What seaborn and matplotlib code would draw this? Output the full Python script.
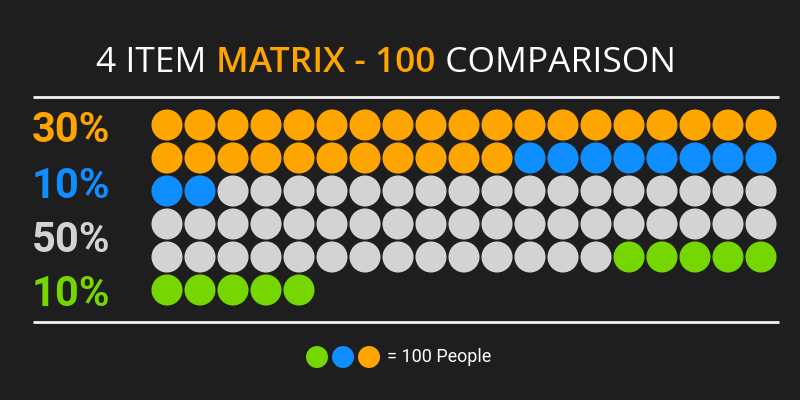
import matplotlib
matplotlib.use("Agg")
import matplotlib.pyplot as plt
import seaborn as sns
import pandas as pd
import numpy as np

# ---- data ----
categories = ["Orange", "Blue", "Gray", "Green"]
counts = [30, 10, 50, 10]
percent_labels = ["30%", "10%", "50%", "10%"]
colors = ["#FFA500", "#0F8FFF", "#D3D3D3", "#76D600"]
title_parts = ["4 ITEM ", "MATRIX - 100", " COMPARISON"]
legend_text = "= 100 People"
legend_order = ["Green", "Blue", "Orange"]

BG = "#1E1E1E"
N_COLS = 19

sns.set_theme(style="dark")
plt.rcParams["font.family"] = ["Open Sans", "DejaVu Sans"]

fig = plt.figure(figsize=(8, 4), dpi=100, facecolor=BG)
ax = fig.add_axes([0, 0, 1, 1])
ax.set_facecolor(BG)
ax.set_xlim(0, 800)
ax.set_ylim(400, 0)
ax.axis("off")

# build waffle table
cat_col = []
for c, n in zip(categories, counts):
    cat_col += [c] * n
df = pd.DataFrame({"category": cat_col})
idx = np.arange(len(df))
df["col"] = idx % N_COLS
df["row"] = idx // N_COLS
df["x"] = 167 + 33 * df["col"]
df["y"] = 125 + 33 * df["row"]

palette = dict(zip(categories, colors))
sns.scatterplot(data=df, x="x", y="y", hue="category", palette=palette,
                s=500, linewidth=0, legend=False, ax=ax)

# separator lines
ax.plot([33, 779], [97, 97], color="#F2F2F2", lw=2, solid_capstyle="butt")
ax.plot([33, 779], [322, 322], color="#F2F2F2", lw=2, solid_capstyle="butt")

# percent labels
label_y = [131, 186, 241, 295]
for lab, col, yy in zip(percent_labels, colors, label_y):
    ax.text(32, yy, lab, color=col, fontsize=30, fontweight="bold",
            family=["Roboto", "DejaVu Sans"], ha="left", va="center")

# title with mixed colours
TY = 63
fig.canvas.draw()
renderer = fig.canvas.get_renderer()
title_styles = [("#FFFFFF", "normal"), ("#FFA500", "semibold"), ("#FFFFFF", "normal")]
texts = []
for part, (col, wt) in zip(title_parts, title_styles):
    t = ax.text(0, TY, part, color=col, fontsize=25.5, fontweight=wt,
                ha="left", va="center")
    texts.append(t)
widths = [t.get_window_extent(renderer).width for t in texts]
total = sum(widths)
start = 386 - total / 2
inv = ax.transData.inverted()
cur = ax.transData.transform((start, TY))[0]
for t, w in zip(texts, widths):
    t.set_x(inv.transform((cur, 0))[0])
    cur += w

# legend dots
leg = pd.DataFrame({"category": legend_order})
leg["x"] = 317 + 26 * np.arange(len(leg))
leg["y"] = 357
sns.scatterplot(data=leg, x="x", y="y", hue="category", palette=palette,
                s=250, linewidth=0, legend=False, ax=ax)
ax.text(387, 357, legend_text, color="#FFFFFF", fontsize=13,
        family=["Roboto", "DejaVu Sans"], ha="left", va="center")

ax.set_xlim(0, 800)
ax.set_ylim(400, 0)
fig.savefig("out.png", dpi=100, facecolor=BG)
